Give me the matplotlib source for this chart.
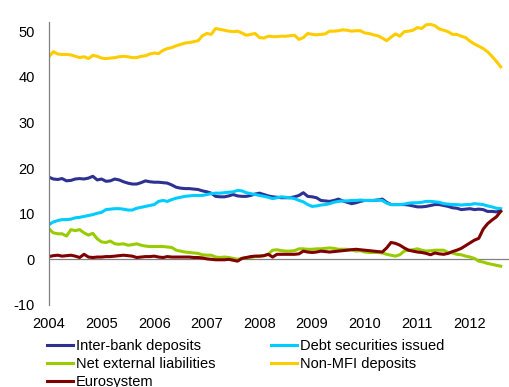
import numpy as np
import matplotlib
matplotlib.use("Agg")
from matplotlib import pyplot as plt

plt.rcParams['font.family'] = ['Liberation Sans', 'DejaVu Sans']
plt.rcParams['axes.unicode_minus'] = False

# monthly observations, Jan 2004 onwards (% of total liabilities)
interbank = [18.0, 17.6, 17.5, 17.7, 17.2, 17.3, 17.6, 17.7, 17.6, 17.8, 18.2, 17.4,
             17.6, 17.1, 17.2, 17.6, 17.4, 17.0, 16.7, 16.5, 16.5, 16.8, 17.2, 17.0,
             16.9, 16.9, 16.8, 16.7, 16.3, 15.8, 15.6, 15.5, 15.5, 15.4, 15.3, 15.0,
             14.8, 14.5, 13.8, 13.7, 13.7, 13.9, 14.2, 13.9, 13.8, 13.8, 14.0, 14.3,
             14.5, 14.2, 13.9, 13.7, 13.6, 13.5, 13.5, 13.5, 13.7, 14.0, 14.6, 13.8,
             13.7, 13.5, 12.9, 12.8, 12.7, 12.9, 13.2, 12.8, 12.5, 12.2, 12.4, 12.7,
             12.9, 12.9, 12.9, 13.0, 13.2, 12.5, 12.0, 12.0, 12.0, 12.0, 11.9, 11.7,
             11.5, 11.5, 11.6, 11.8, 12.0, 12.0, 11.8, 11.6, 11.3, 11.2, 10.9, 11.0,
             11.1, 10.9, 11.0, 10.9, 10.5, 10.5, 10.4, 10.6]
debt_sec = [7.6, 8.2, 8.5, 8.7, 8.7, 8.8, 9.1, 9.2, 9.4, 9.6, 9.8, 10.1,
            10.3, 10.9, 11.0, 11.1, 11.1, 11.0, 10.8, 10.8, 11.2, 11.4, 11.6, 11.8,
            12.0, 12.7, 12.9, 12.7, 13.1, 13.4, 13.6, 13.8, 13.9, 14.0, 14.0, 14.0,
            14.2, 14.4, 14.5, 14.5, 14.6, 14.7, 14.8, 15.1, 15.0, 14.6, 14.4, 14.2,
            14.0, 13.8, 13.6, 13.3, 13.5, 13.7, 13.6, 13.5, 13.3, 12.9, 12.6, 12.0,
            11.6, 11.7, 11.9, 12.0, 12.2, 12.5, 12.7, 12.8, 12.8, 12.9, 12.9, 13.0,
            12.9, 12.9, 12.9, 13.0, 12.9, 12.3, 12.0, 12.0, 12.0, 12.1, 12.3, 12.4,
            12.4, 12.5, 12.7, 12.7, 12.6, 12.5, 12.2, 12.1, 12.0, 12.0, 11.9, 12.0,
            12.0, 12.2, 12.1, 12.0, 11.7, 11.5, 11.2, 11.1]
net_ext = [6.7, 5.8, 5.6, 5.6, 5.1, 6.5, 6.3, 6.5, 5.8, 5.3, 5.7, 4.5,
           3.8, 3.7, 4.0, 3.4, 3.3, 3.4, 3.1, 3.2, 3.4, 3.1, 2.9, 2.8,
           2.8, 2.8, 2.8, 2.7, 2.6, 2.0, 1.8, 1.6, 1.5, 1.4, 1.3, 1.0,
           0.9, 0.9, 0.5, 0.4, 0.5, 0.4, 0.2, 0.0, 0.2, 0.4, 0.4, 0.6,
           0.7, 0.8, 1.1, 2.0, 2.1, 1.9, 1.8, 1.8, 1.9, 2.3, 2.3, 2.2,
           2.2, 2.3, 2.3, 2.4, 2.5, 2.4, 2.2, 2.2, 2.2, 2.1, 1.8, 1.9,
           1.6, 1.5, 1.5, 1.5, 1.4, 1.1, 0.9, 0.7, 1.0, 1.8, 2.0, 2.1,
           2.3, 2.0, 1.8, 1.9, 2.0, 2.0, 2.0, 1.5, 1.4, 1.1, 1.0, 0.7,
           0.5, 0.2, -0.4, -0.6, -0.9, -1.1, -1.3, -1.5]
non_mfi = [44.4, 45.5, 45.0, 44.9, 44.9, 44.8, 44.5, 44.2, 44.4, 44.0, 44.7, 44.5,
           44.1, 44.0, 44.1, 44.2, 44.4, 44.5, 44.4, 44.2, 44.2, 44.5, 44.6, 45.0,
           45.2, 45.1, 45.8, 46.2, 46.4, 46.8, 47.1, 47.4, 47.5, 47.7, 47.9, 49.0,
           49.5, 49.3, 50.6, 50.4, 50.2, 50.0, 49.9, 50.0, 49.6, 49.1, 49.3, 49.5,
           48.6, 48.5, 48.9, 48.8, 48.8, 48.9, 48.9, 49.0, 49.1, 48.2, 48.6, 49.5,
           49.3, 49.2, 49.3, 49.4, 50.0, 50.0, 50.1, 50.3, 50.2, 50.0, 50.1, 50.1,
           49.6, 49.5, 49.2, 49.0, 48.5, 47.9, 48.7, 49.4, 48.9, 49.9, 50.0, 50.2,
           50.8, 50.6, 51.4, 51.5, 51.2, 50.5, 50.2, 49.9, 49.3, 49.3, 48.9, 48.6,
           47.8, 47.2, 46.7, 46.2, 45.5, 44.5, 43.4, 42.2]
eurosystem = [0.6, 0.8, 0.9, 0.7, 0.8, 0.9, 0.7, 0.4, 1.1, 0.5, 0.4, 0.5,
              0.5, 0.6, 0.6, 0.7, 0.8, 0.9, 0.8, 0.7, 0.4, 0.5, 0.6, 0.6,
              0.7, 0.5, 0.4, 0.6, 0.5, 0.5, 0.5, 0.5, 0.5, 0.4, 0.4, 0.3,
              0.1, 0.0, -0.1, -0.1, -0.1, 0.0, -0.2, -0.4, 0.2, 0.4, 0.6, 0.7,
              0.7, 0.8, 1.1, 0.5, 1.1, 1.1, 1.1, 1.1, 1.1, 1.2, 1.8, 1.6,
              1.5, 1.6, 1.8, 1.7, 1.6, 1.7, 1.8, 1.9, 2.0, 2.1, 2.2, 2.1,
              2.0, 1.9, 1.8, 1.7, 1.6, 2.5, 3.7, 3.5, 3.1, 2.5, 2.0, 1.8,
              1.6, 1.5, 1.3, 1.0, 1.4, 1.2, 1.1, 1.3, 1.7, 2.0, 2.4, 3.0,
              3.6, 4.2, 4.6, 6.6, 7.8, 8.6, 9.3, 10.5]

years = list(range(2004, 2013))
t = 2004 + np.arange(len(non_mfi)) / 12.0

fig = plt.figure(figsize=(5.1, 3.87), dpi=100)
ax = fig.add_axes([0.096, 0.212, 0.904, 0.731])

lw = 2.2
l_ib, = ax.plot(t, interbank, color='#2E3192', lw=lw, label='Inter-bank deposits')
l_ds, = ax.plot(t, debt_sec, color='#00CCFF', lw=lw, label='Debt securities issued')
l_ne, = ax.plot(t, net_ext, color='#99CC00', lw=lw, label='Net external liabilities')
l_nm, = ax.plot(t, non_mfi, color='#FFCC00', lw=lw, label='Non-MFI deposits')
l_eu, = ax.plot(t, eurosystem, color='#800000', lw=lw, label='Eurosystem')

ax.axhline(0, color='#808080', lw=0.9, zorder=0)

ax.set_xlim(2004, 2012.76)
ax.set_ylim(-10, 52)
ax.set_yticks(range(-10, 51, 10))
ax.set_xticks(years)
ax.set_xticklabels([str(y) for y in years])
ax.tick_params(axis='both', length=0, labelsize=10.5, colors='#000000')
ax.tick_params(axis='y', pad=10)
ax.tick_params(axis='x', pad=9)

for s in ['top', 'right', 'bottom']:
    ax.spines[s].set_visible(False)
ax.spines['left'].set_color('#808080')
ax.spines['left'].set_linewidth(0.9)

fig.legend(handles=[l_ib, l_ne, l_eu, l_ds, l_nm], ncol=2, loc='upper left',
           bbox_to_anchor=(0.092, 0.125), frameon=False, fontsize=10.5,
           borderpad=0, borderaxespad=0, handlelength=1.8, handletextpad=0.2,
           labelspacing=0.3, columnspacing=3.8)

fig.savefig('out.png', dpi=100)
